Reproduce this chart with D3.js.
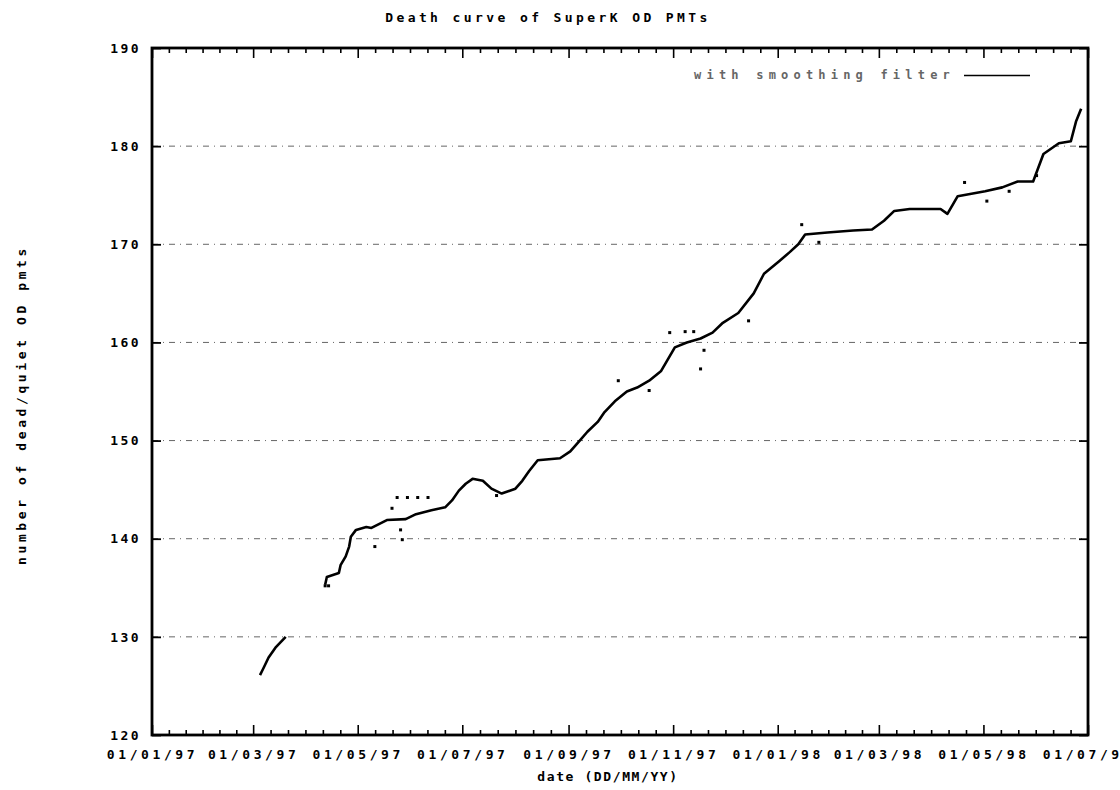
<!DOCTYPE html>
<html>
<head>
<meta charset="utf-8">
<script src="https://cdn.jsdelivr.net/npm/d3@7"></script>
<style>
  body { margin: 0; background: #fff; }
  svg text { font-family: "DejaVu Sans Mono", monospace; font-weight: bold; fill: #000; }
</style>
</head>
<body>
<svg class="chart"></svg>
<script>
'use strict'

// smoothed curve (null = gap in the record)
const curveDates = ['1997-03-05', '1997-03-07', '1997-03-10', '1997-03-14', '1997-03-20', '1997-04-01',
  '1997-04-12', '1997-04-13', '1997-04-20', '1997-04-21', '1997-04-24', '1997-04-26', '1997-04-27',
  '1997-04-30', '1997-05-06', '1997-05-09', '1997-05-18', '1997-05-29', '1997-06-04', '1997-06-13',
  '1997-06-21', '1997-06-25', '1997-06-29', '1997-07-03', '1997-07-07', '1997-07-13', '1997-07-18',
  '1997-07-24', '1997-08-01', '1997-08-05', '1997-08-09', '1997-08-14', '1997-08-27', '1997-09-02',
  '1997-09-07', '1997-09-12', '1997-09-18', '1997-09-22', '1997-09-28', '1997-10-05', '1997-10-11',
  '1997-10-18', '1997-10-25', '1997-10-29', '1997-11-02', '1997-11-09', '1997-11-17', '1997-11-24',
  '1997-11-30', '1997-12-09', '1997-12-18', '1997-12-24', '1998-01-02', '1998-01-08', '1998-01-13',
  '1998-01-17', '1998-01-30', '1998-02-14', '1998-02-25', '1998-03-04', '1998-03-10', '1998-03-19',
  '1998-04-06', '1998-04-10', '1998-04-16', '1998-05-02', '1998-05-12', '1998-05-21', '1998-05-30',
  '1998-06-05', '1998-06-14', '1998-06-21', '1998-06-24', '1998-06-27']
const curveCounts = [126.1, 126.8, 127.9, 128.9, 130.0, null,
  135.3, 136.1, 136.5, 137.3, 138.2, 139.2, 140.2,
  140.9, 141.2, 141.1, 141.9, 142.0, 142.5, 142.9,
  143.2, 143.9, 144.9, 145.6, 146.1, 145.9, 145.1,
  144.6, 145.1, 145.9, 146.9, 148.0, 148.2, 148.9,
  149.9, 150.9, 151.9, 152.9, 154.0, 155.0, 155.4,
  156.1, 157.1, 158.3, 159.5, 160.0, 160.4, 161.0,
  162.0, 163.0, 165.0, 167.0, 168.3, 169.2, 170.0,
  171.0, 171.2, 171.4, 171.5, 172.4, 173.4, 173.6,
  173.6, 173.1, 174.9, 175.4, 175.8, 176.4, 176.4,
  179.2, 180.3, 180.5, 182.5, 183.8]

// stray raw points around the curve
const rawDates = ['1997-04-12', '1997-04-14', '1997-05-11', '1997-05-21', '1997-05-24', '1997-05-26',
  '1997-05-27', '1997-05-30', '1997-06-05', '1997-06-11', '1997-07-21', '1997-09-30', '1997-10-18',
  '1997-10-30', '1997-11-08', '1997-11-13', '1997-11-17', '1997-11-19', '1997-12-15', '1998-01-15',
  '1998-01-25', '1998-04-20', '1998-05-03', '1998-05-16', '1998-06-01']
const rawCounts = [135.2, 135.2, 139.2, 143.1, 144.2, 140.9,
  139.9, 144.2, 144.2, 144.2, 144.4, 156.1, 155.1,
  161.0, 161.1, 161.1, 157.3, 159.2, 162.2, 172.0,
  170.2, 176.3, 174.4, 175.4, 177.0]

const yTicks = [120, 130, 140, 150, 160, 170, 180, 190]
const gridTicks = [130, 140, 150, 160, 170, 180]
const xStart = '1997-01-01'
const xEnd = '1998-07-01'

const width = 1120
const height = 790
const margin = { top: 48, right: 32, bottom: 55, left: 152 }
const parse = d3.timeParse('%Y-%m-%d')

const svg = d3.select('.chart')
  .attr('width', width)
  .attr('height', height)

const x = d3.scaleTime()
  .domain([parse(xStart), parse(xEnd)])
  .range([margin.left, width - margin.right])
const y = d3.scaleLinear()
  .domain([120, 190])
  .range([height - margin.bottom, margin.top])

const majorDates = d3.timeMonth.every(2).range(parse(xStart), d3.timeDay.offset(parse(xEnd), 1))
// five small ticks between each pair of labelled ones
const minorDates = []
for (let i = 0; i < majorDates.length - 1; i++) {
  const a = +majorDates[i]
  const b = +majorDates[i + 1]
  for (let k = 1; k < 6; k++) minorDates.push(new Date(a + (b - a) * k / 6))
}

// dotted grid
svg.append('g')
  .selectAll('line')
  .data(gridTicks)
  .enter()
  .append('line')
  .attr('x1', margin.left)
  .attr('x2', width - margin.right)
  .attr('y1', d => y(d))
  .attr('y2', d => y(d))
  .attr('stroke', '#666')
  .attr('stroke-width', 1)
  .attr('stroke-dasharray', '6,5,1,5')

const fmt = d3.timeFormat('%d/%m/%y')
const plotBottom = height - margin.bottom
const plotTop = margin.top

// bottom axis, ticks pointing inward
const xAxis = svg.append('g')
  .attr('transform', `translate(0,${plotBottom})`)
  .call(d3.axisBottom(x).tickValues(majorDates).tickFormat(fmt).tickSizeInner(-10).tickSizeOuter(0))
xAxis.select('.domain').remove()
xAxis.selectAll('line').attr('stroke', '#000').attr('stroke-width', 1.6)
xAxis.selectAll('text')
  .attr('y', 15)
  .attr('font-size', 13)
  .attr('letter-spacing', 3.6)

svg.append('g')
  .attr('transform', `translate(0,${plotBottom})`)
  .call(d3.axisBottom(x).tickValues(minorDates).tickFormat('').tickSizeInner(-5).tickSizeOuter(0))
  .call(g => g.select('.domain').remove())
  .selectAll('line').attr('stroke', '#000').attr('stroke-width', 1.6)

// mirrored top ticks
svg.append('g')
  .attr('transform', `translate(0,${plotTop})`)
  .call(d3.axisTop(x).tickValues(majorDates).tickFormat('').tickSizeInner(-10).tickSizeOuter(0))
  .call(g => g.select('.domain').remove())
  .selectAll('line').attr('stroke', '#000').attr('stroke-width', 1.6)
svg.append('g')
  .attr('transform', `translate(0,${plotTop})`)
  .call(d3.axisTop(x).tickValues(minorDates).tickFormat('').tickSizeInner(-5).tickSizeOuter(0))
  .call(g => g.select('.domain').remove())
  .selectAll('line').attr('stroke', '#000').attr('stroke-width', 1.6)

// left axis with labels, right axis ticks only
const yAxis = svg.append('g')
  .attr('transform', `translate(${margin.left},0)`)
  .call(d3.axisLeft(y).tickValues(yTicks).tickFormat(d3.format('d')).tickSizeInner(-9).tickSizeOuter(0))
yAxis.select('.domain').remove()
yAxis.selectAll('line').attr('stroke', '#000').attr('stroke-width', 1.8)
yAxis.selectAll('text')
  .attr('x', -11)
  .attr('font-size', 13)
  .attr('letter-spacing', 2.4)

svg.append('g')
  .attr('transform', `translate(${width - margin.right},0)`)
  .call(d3.axisRight(y).tickValues(yTicks).tickFormat('').tickSizeInner(-9).tickSizeOuter(0))
  .call(g => g.select('.domain').remove())
  .selectAll('line').attr('stroke', '#000').attr('stroke-width', 1.8)

// frame
svg.append('rect')
  .attr('x', margin.left)
  .attr('y', plotTop)
  .attr('width', width - margin.right - margin.left)
  .attr('height', plotBottom - plotTop)
  .attr('fill', 'none')
  .attr('stroke', '#000')
  .attr('stroke-width', 2.8)

// data
const curve = curveDates.map((d, i) => ({ date: parse(d), value: curveCounts[i] }))
const line = d3.line()
  .defined(d => d.value !== null)
  .x(d => x(d.date))
  .y(d => y(d.value))

svg.append('path')
  .datum(curve)
  .attr('d', line)
  .attr('fill', 'none')
  .attr('stroke', '#000')
  .attr('stroke-width', 2.6)
  .attr('stroke-linejoin', 'round')

svg.append('g')
  .selectAll('rect')
  .data(rawDates.map((d, i) => ({ date: parse(d), value: rawCounts[i] })))
  .enter()
  .append('rect')
  .attr('x', d => x(d.date) - 1.5)
  .attr('y', d => y(d.value) - 1.5)
  .attr('width', 3)
  .attr('height', 3)
  .attr('fill', '#000')

// legend
const legendY = y(187.2)
svg.append('text')
  .attr('x', 955)
  .attr('y', legendY + 4)
  .attr('text-anchor', 'end')
  .attr('font-size', 12)
  .attr('font-weight', 'normal')
  .attr('letter-spacing', 5.2)
  .style('fill', '#666')
  .text('with smoothing filter')
svg.append('line')
  .attr('x1', 964)
  .attr('x2', 1030)
  .attr('y1', legendY)
  .attr('y2', legendY)
  .attr('stroke', '#000')
  .attr('stroke-width', 1.6)

// titles
svg.append('text')
  .attr('x', 548)
  .attr('y', 22)
  .attr('text-anchor', 'middle')
  .attr('font-size', 13)
  .attr('letter-spacing', 3.4)
  .text('Death curve of SuperK OD PMTs')

svg.append('text')
  .attr('x', 608)
  .attr('y', 781)
  .attr('text-anchor', 'middle')
  .attr('font-size', 13)
  .attr('letter-spacing', 1.6)
  .text('date (DD/MM/YY)')

svg.append('text')
  .attr('transform', 'translate(26,405) rotate(-90)')
  .attr('text-anchor', 'middle')
  .attr('font-size', 13)
  .attr('letter-spacing', 3.6)
  .text('number of dead/quiet OD pmts')
</script>
</body>
</html>
